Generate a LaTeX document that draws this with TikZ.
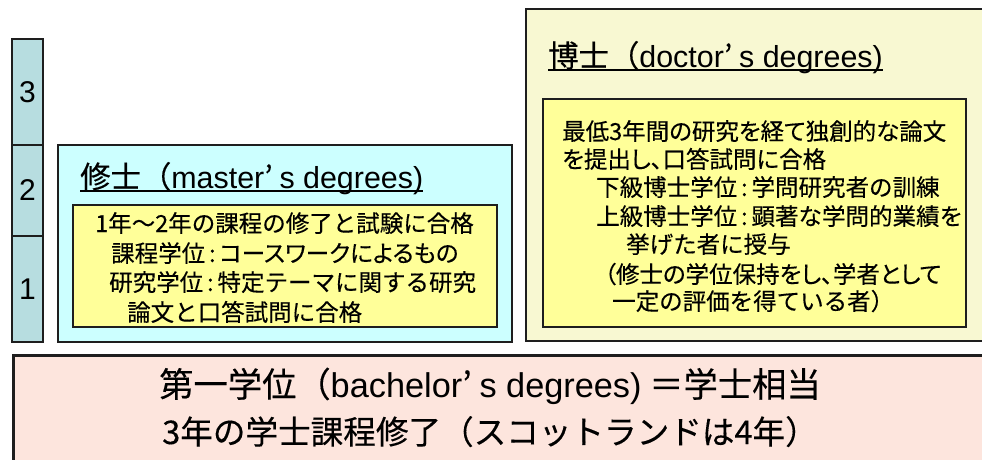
\documentclass[tikz,border=0pt]{standalone}
\usepackage{fontspec}
\setmainfont{Noto Sans CJK JP}[FakeBold=0.3]
\newfontfamily\pjp{Noto Sans CJK JP}[RawFeature=+palt, FakeBold=0.3]
\newfontfamily\lat{Liberation Sans}
\definecolor{colbg}{RGB}{183,221,224}
\definecolor{mastbg}{RGB}{204,255,255}
\definecolor{docbg}{RGB}{248,248,210}
\definecolor{inyel}{RGB}{255,255,153}
\definecolor{pinkbg}{RGB}{253,229,221}
\definecolor{edge}{RGB}{30,30,30}
\newcommand{\cln}{\,:\,}
\begin{document}
\begin{tikzpicture}[x=1pt,y=-1pt,
  box/.style={draw=edge, line width=2pt, anchor=north west, inner sep=0pt, outer sep=0pt},
  txt/.style={anchor=base west, inner sep=0pt, font=\fontsize{23.5}{28}\selectfont},
  ptxt/.style={anchor=base west, inner sep=0pt, font=\pjp\fontsize{23.5}{28}\selectfont},
  ttl/.style={anchor=base west, inner sep=0pt, font=\fontsize{30.4}{34}\selectfont},
  num/.style={font=\lat\fontsize{30}{34}\selectfont},
  big/.style={anchor=base, inner sep=0pt}]
\useasboundingbox (0,0) rectangle (982,459);
\fill[white] (0,0) rectangle (982,459);
% year column
\node[box, fill=colbg, minimum width=31pt, minimum height=106pt] (c3) at (12,39) {};
\node[box, fill=colbg, minimum width=31pt, minimum height=91pt] (c2) at (12,145) {};
\node[box, fill=colbg, minimum width=31pt, minimum height=106pt] (c1) at (12,236) {};
\node[num] (n3) at (c3.center) {3};
\node[num] (n2) at (c2.center) {2};
\node[num] (n1) at (c1.center) {1};
% master
\node[box, fill=mastbg, minimum width=454pt, minimum height=197pt] (mast) at (58,145) {};
\node[box, fill=inyel, minimum width=424pt, minimum height=122pt] (mastin) at (73,205) {};
\node[ttl] (mt) at (80,188) {修士（{\lat master}’ {\lat s degrees)}};
\draw[line width=1.5pt] ([yshift=-3pt]mt.base west) -- ([yshift=-3pt]mt.base east);
\node[txt] (m1) at (95,232) {1年～2年の課程の修了と試験に合格};
\node[ptxt] (m2) at (111,262) {課程学位\cln コースワークによるもの};
\node[txt] (m3) at (109,291) {研究学位\cln 特定テーマに関する研究};
\node[txt] (m4) at (127,321) {論文と口答試問に合格};
% doctor
\node[box, fill=docbg, minimum width=470pt, minimum height=332pt] (doc) at (526,9) {};
\node[box, fill=inyel, minimum width=423pt, minimum height=228pt] (docin) at (543,99) {};
\node[ttl] (dt) at (548,67) {博士（{\lat doctor}’ {\lat s degrees)}};
\draw[line width=1.5pt] ([yshift=-3pt]dt.base west) -- ([yshift=-3pt]dt.base east);
\node[ptxt] (d1) at (562,140) {最低3年間の研究を経て独創的な論文};
\node[ptxt] (d2) at (562,168) {を提出し、口答試問に合格};
\node[txt] (d3) at (596,196) {下級博士学位\cln 学問研究者の訓練};
\node[txt] (d4) at (596,225) {上級博士学位\cln 顕著な学問的業績を};
\node[txt] (d5) at (626,253) {挙げた者に授与};
\node[ptxt] (d6) at (604,283) {（修士の学位保持をし、学者として};
\node[txt] (d7) at (612,310) {一定の評価を得ている者）};
% bachelor
\node[box, fill=pinkbg, line width=3pt, minimum width=990pt, minimum height=120pt] (bach) at (13,355) {};
\node[big, font=\fontsize{34.3}{38}\selectfont] (b1) at (490,397) {第一学位（{\lat bachelor}’ {\lat s degrees)} ＝学士相当};
\node[big, font=\fontsize{32.6}{38}\selectfont] (b2) at (490,444) {3年の学士課程修了（スコットランドは4年）};
\end{tikzpicture}
\end{document}
